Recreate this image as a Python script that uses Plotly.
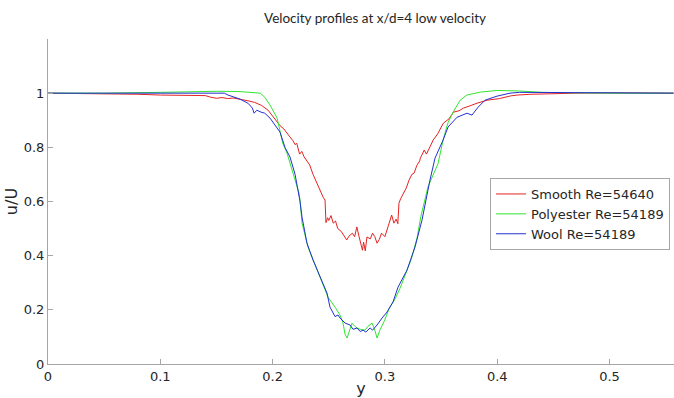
import plotly.graph_objects as go

# ---- data ----
smooth_y = [0.000, 0.02, 0.04, 0.06, 0.08, 0.10, 0.12, 0.13, 0.14, 0.145, 0.15, 0.155, 0.16, 0.165,
            0.171, 0.178, 0.184, 0.190, 0.196, 0.200, 0.203, 0.2066, 0.210, 0.213, 0.2155, 0.218,
            0.220, 0.2215, 0.2226, 0.2240, 0.226, 0.228, 0.230, 0.233, 0.236, 0.2395, 0.242, 0.245,
            0.2467, 0.2470, 0.2475, 0.249, 0.250, 0.252, 0.254, 0.256, 0.258, 0.261, 0.264, 0.266,
            0.268, 0.271, 0.273, 0.275, 0.277, 0.279, 0.280, 0.281, 0.2825, 0.284, 0.287, 0.289,
            0.291, 0.293, 0.295, 0.297, 0.300, 0.303, 0.306, 0.308, 0.310, 0.3115, 0.3125, 0.314,
            0.316, 0.319, 0.3215, 0.324, 0.326, 0.3285, 0.331, 0.3315, 0.333, 0.335, 0.337, 0.340,
            0.343, 0.347, 0.352, 0.357, 0.361, 0.366, 0.370, 0.375, 0.382, 0.391, 0.402, 0.412,
            0.418, 0.43, 0.45, 0.47, 0.50, 0.53, 0.557]
smooth_u = [1.000, 0.999, 1.000, 0.998, 0.996, 0.993, 0.992, 0.990, 0.991, 0.985, 0.981, 0.984, 0.980, 0.982,
            0.978, 0.972, 0.966, 0.955, 0.937, 0.915, 0.900, 0.880, 0.868, 0.850, 0.838, 0.825,
            0.810, 0.815, 0.797, 0.775, 0.785, 0.765, 0.753, 0.735, 0.700, 0.668, 0.640, 0.616,
            0.605, 0.560, 0.522, 0.540, 0.530, 0.548, 0.520, 0.528, 0.500, 0.490, 0.470, 0.458,
            0.472, 0.483, 0.470, 0.506, 0.470, 0.440, 0.420, 0.450, 0.418, 0.469, 0.462, 0.483,
            0.470, 0.446, 0.460, 0.483, 0.470, 0.510, 0.550, 0.520, 0.535, 0.518, 0.594, 0.610,
            0.624, 0.650, 0.679, 0.700, 0.705, 0.734, 0.750, 0.760, 0.772, 0.790, 0.775, 0.800,
            0.827, 0.850, 0.889, 0.905, 0.930, 0.935, 0.945, 0.952, 0.963, 0.974, 0.980, 0.990,
            0.993, 0.996, 0.999, 1.000, 1.001, 1.000, 1.000]

poly_y = [0.000, 0.05, 0.10, 0.12, 0.15, 0.17, 0.189, 0.193, 0.1977, 0.204, 0.2066, 0.209, 0.2128,
          0.2155, 0.2182, 0.222, 0.2235, 0.2244, 0.2262, 0.2315, 0.2377, 0.2440, 0.2493, 0.2556,
          0.2600, 0.2627, 0.2645, 0.2663, 0.268, 0.2707, 0.273, 0.2752, 0.278, 0.2823, 0.285,
          0.2886, 0.2910, 0.2930, 0.2955, 0.2998, 0.3037, 0.3090, 0.3135, 0.3180, 0.3233, 0.3286,
          0.332, 0.3384, 0.3473, 0.3518, 0.356, 0.3607, 0.367, 0.373, 0.385, 0.40, 0.42, 0.44,
          0.47, 0.50, 0.557]
poly_u = [1.000, 1.000, 1.003, 1.005, 1.007, 1.006, 1.000, 0.985, 0.956, 0.908, 0.863, 0.815, 0.779,
          0.742, 0.705, 0.660, 0.631, 0.605, 0.520, 0.432, 0.365, 0.299, 0.247, 0.210,
          0.181, 0.151, 0.110, 0.096, 0.120, 0.151, 0.140, 0.133, 0.128, 0.125, 0.140,
          0.151, 0.125, 0.096, 0.125, 0.162, 0.205, 0.240, 0.280, 0.325, 0.385, 0.465,
          0.545, 0.655, 0.740, 0.827, 0.889, 0.930, 0.974, 0.993, 1.004, 1.010, 1.008, 1.003,
          1.001, 1.000, 1.000]

wool_y = [0.000, 0.05, 0.10, 0.15, 0.157, 0.1603, 0.171, 0.178, 0.182, 0.1835, 0.186, 0.1897, 0.193,
          0.1977, 0.204, 0.2066, 0.211, 0.2155, 0.22, 0.2244, 0.2262, 0.2306, 0.2360, 0.2422,
          0.2484, 0.2511, 0.2556, 0.2582, 0.2600, 0.2645, 0.2690, 0.2716, 0.2752, 0.278, 0.2805,
          0.283, 0.2868, 0.289, 0.2930, 0.2975, 0.3019, 0.3072, 0.3117, 0.3197, 0.3268, 0.3330,
          0.3375, 0.3401, 0.3446, 0.3490, 0.3518, 0.3562, 0.3642, 0.3731, 0.3775, 0.3829, 0.3891,
          0.3998, 0.4114, 0.42, 0.45, 0.50, 0.557]
wool_u = [1.000, 1.000, 1.001, 1.001, 1.000, 0.993, 0.978, 0.963, 0.945, 0.926, 0.937, 0.930, 0.926,
          0.908, 0.871, 0.856, 0.800, 0.764, 0.700, 0.600, 0.542, 0.446, 0.384, 0.321,
          0.262, 0.210, 0.175, 0.181, 0.170, 0.151, 0.144, 0.128, 0.133, 0.120, 0.125,
          0.118, 0.133, 0.125, 0.144, 0.170, 0.192, 0.229, 0.284, 0.347, 0.432, 0.531,
          0.631, 0.679, 0.760, 0.800, 0.827, 0.875, 0.911, 0.926, 0.919, 0.948, 0.974,
          0.989, 1.000, 1.003, 1.002, 1.000, 1.000]

series_names = ["Smooth Re=54640", "Polyester Re=54189", "Wool Re=54189"]
series_colors = ["#e42222", "#2fe62f", "#2430d2"]

x_tick_vals = [0, 0.1, 0.2, 0.3, 0.4, 0.5]
x_tick_text = ["0", "0.1", "0.2", "0.3", "0.4", "0.5"]
y_tick_vals = [0, 0.2, 0.4, 0.6, 0.8, 1.0]
y_tick_text = ["0", "0.2", "0.4", "0.6", "0.8", "1"]

fig = go.Figure()
for xs, us, name, col in zip([smooth_y, poly_y, wool_y], [smooth_u, poly_u, wool_u],
                             series_names, series_colors):
    fig.add_trace(go.Scatter(x=xs, y=us, mode="lines", name=name,
                             line=dict(color=col, width=1)))

axis_col = "#a6a6a6"
fig.update_layout(
    width=674, height=398,
    margin=dict(l=48, r=0, t=39, b=34),
    paper_bgcolor="white", plot_bgcolor="white",
    font=dict(family="DejaVu Sans", size=13, color="#262626"),
    title=dict(text="Velocity profiles at x/d=4 low velocity",
               font=dict(family="Lato", size=13.5, color="#262626"),
               x=375 / 674, xanchor="center", y=1 - 18 / 398, yanchor="middle"),
    xaxis=dict(range=[0, 0.5574], tickvals=x_tick_vals, ticktext=x_tick_text,
               showline=True, linecolor=axis_col, linewidth=1, mirror=False,
               ticks="inside", ticklen=5, tickcolor=axis_col, showgrid=False, zeroline=False,
               title=dict(text="y", standoff=4), tickfont=dict(size=13)),
    yaxis=dict(range=[0, 1.2], tickvals=y_tick_vals, ticktext=y_tick_text,
               showline=True, linecolor=axis_col, linewidth=1, mirror=False,
               ticks="inside", ticklen=5, tickcolor=axis_col, showgrid=False, zeroline=False,
               title=dict(text="u/U", standoff=2), tickfont=dict(size=13)),
    legend=dict(x=(670 - 48) / 626, xanchor="right", y=(364 - 178) / 325, yanchor="top",
                bgcolor="white", bordercolor=axis_col, borderwidth=1,
                font=dict(family="DejaVu Sans", size=13, color="#262626"),
                itemwidth=30, tracegroupgap=0),
    showlegend=True,
)

fig.write_html("out.html")
